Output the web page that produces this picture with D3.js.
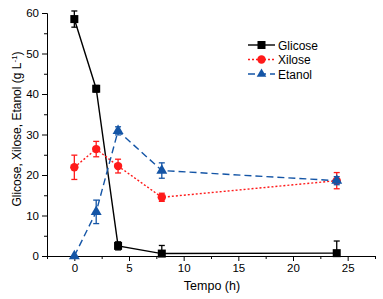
<!DOCTYPE html>
<html>
<head>
<meta charset="utf-8">
<script src="https://cdn.jsdelivr.net/npm/d3@7"></script>
<style>
body { margin: 0; background: #fff; }
svg { font-family: Arial, "Liberation Sans", sans-serif; }
.axis path, .axis line { stroke: #000; stroke-width: 1; }
.axis text { font-size: 11.5px; fill: #000; }
</style>
</head>
<body>
<script>
const WIDTH = 383;
const HEIGHT = 299;
const MARGIN = {left: 47, right: 8, top: 13, bottom: 43};

var tempo = [0, 2, 4, 8, 24];
var glicose = [58.5, 41.3, 2.5, 0.6, 0.7];
var glicoseErr = [2, 0.8, 1, 2, 3];
var xilose = [21.9, 26.4, 22.2, 14.5, 18.6];
var xiloseErr = [3, 1.9, 1.7, 1, 2];
var etanol = [0, 10.9, 30.9, 21.1, 18.6];
var etanolErr = [0, 2.9, 1, 1.9, 1];
var xTicks = [0, 5, 10, 15, 20, 25];
var yTicks = [0, 10, 20, 30, 40, 50, 60];

var series = [
	{name: 'Glicose', values: glicose, err: glicoseErr, color: '#000000', dash: null, marker: 'square'},
	{name: 'Xilose', values: xilose, err: xiloseErr, color: '#ff1a1a', dash: '2,2', marker: 'circle'},
	{name: 'Etanol', values: etanol, err: etanolErr, color: '#1455a6', dash: '7,4', marker: 'triangle'}
];

var drawChart = function(){
	var svg = d3.select('body').append('svg')
		.attr('width', WIDTH)
		.attr('height', HEIGHT);

	var xScale = d3.scaleLinear().domain([-2.5, 27.5]).range([MARGIN.left, WIDTH - MARGIN.right]);
	var yScale = d3.scaleLinear().domain([0, 60]).range([HEIGHT - MARGIN.bottom, MARGIN.top]);

	// minor ticks
	var xMinor = d3.range(-2.5, 27.6, 2.5).filter(function(d){ return xTicks.indexOf(d) < 0; });
	var yMinor = d3.range(5, 60, 10);

	svg.append('g').attr('class', 'axis')
		.attr('transform', 'translate(0,' + (HEIGHT - MARGIN.bottom) + ')')
		.call(d3.axisBottom(xScale).tickValues(xMinor).tickSize(3).tickFormat('').tickSizeOuter(0));
	svg.append('g').attr('class', 'axis')
		.attr('transform', 'translate(0,' + (HEIGHT - MARGIN.bottom) + ')')
		.call(d3.axisBottom(xScale).tickValues(xTicks).tickSize(5).tickPadding(3).tickSizeOuter(0));

	svg.append('g').attr('class', 'axis')
		.attr('transform', 'translate(' + MARGIN.left + ',0)')
		.call(d3.axisLeft(yScale).tickValues(yMinor).tickSize(3).tickFormat('').tickSizeOuter(0));
	svg.append('g').attr('class', 'axis')
		.attr('transform', 'translate(' + MARGIN.left + ',0)')
		.call(d3.axisLeft(yScale).tickValues(yTicks).tickSize(5).tickPadding(3).tickSizeOuter(0));

	// axis titles
	svg.append('text')
		.attr('x', 212)
		.attr('y', 290)
		.attr('text-anchor', 'middle')
		.style('font-size', '12.5px')
		.text('Tempo (h)');

	var yLabel = svg.append('text')
		.attr('transform', 'translate(21,129) rotate(-90)')
		.attr('text-anchor', 'middle')
		.style('font-size', '12px');
	yLabel.append('tspan').text('Glicose, Xilose, Etanol (g L');
	yLabel.append('tspan').attr('dy', -4).style('font-size', '8px').text('-1');
	yLabel.append('tspan').attr('dy', 4).text(')');

	var plot = svg.append('g');

	var drawMarker = function(sel, s, size){
		if (s.marker === 'square') {
			sel.append('rect').attr('x', -4).attr('y', -4).attr('width', 8).attr('height', 8).attr('fill', s.color);
		} else if (s.marker === 'circle') {
			sel.append('circle').attr('r', 4.2).attr('fill', s.color);
		} else {
			sel.append('path').attr('d', d3.symbol(d3.symbolTriangle, size || 52)()).attr('fill', s.color);
		}
	};

	series.forEach(function(s){
		var pts = tempo.map(function(t, i){ return {x: t, y: s.values[i], e: s.err[i]}; });
		var g = plot.append('g');

		var line = d3.line()
			.x(function(d){ return xScale(d.x); })
			.y(function(d){ return yScale(d.y); });

		g.append('path')
			.attr('d', line(pts))
			.attr('fill', 'none')
			.attr('stroke', s.color)
			.attr('stroke-width', 1.4)
			.attr('stroke-dasharray', s.dash);

		// error bars
		var eb = g.selectAll('g.err').data(pts.filter(function(d){ return d.e > 0; }))
			.enter().append('g').attr('class', 'err');
		eb.append('line')
			.attr('x1', function(d){ return xScale(d.x); })
			.attr('x2', function(d){ return xScale(d.x); })
			.attr('y1', function(d){ return yScale(d.y + d.e); })
			.attr('y2', function(d){ return Math.min(yScale(d.y - d.e), yScale(0)); })
			.attr('stroke', s.color).attr('stroke-width', 1.3);
		eb.append('line')
			.attr('x1', function(d){ return xScale(d.x) - 3; })
			.attr('x2', function(d){ return xScale(d.x) + 3; })
			.attr('y1', function(d){ return yScale(d.y + d.e); })
			.attr('y2', function(d){ return yScale(d.y + d.e); })
			.attr('stroke', s.color).attr('stroke-width', 1.3);
		eb.filter(function(d){ return d.y - d.e > 0; }).append('line')
			.attr('x1', function(d){ return xScale(d.x) - 3; })
			.attr('x2', function(d){ return xScale(d.x) + 3; })
			.attr('y1', function(d){ return yScale(d.y - d.e); })
			.attr('y2', function(d){ return yScale(d.y - d.e); })
			.attr('stroke', s.color).attr('stroke-width', 1.3);

		g.selectAll('g.pt').data(pts).enter().append('g')
			.attr('class', 'pt')
			.attr('transform', function(d){ return 'translate(' + xScale(d.x) + ',' + yScale(d.y) + ')'; })
			.each(function(){ drawMarker(d3.select(this), s); });
	});

	// legend
	var legend = svg.append('g').attr('transform', 'translate(248,45)');
	series.forEach(function(s, i){
		var row = legend.append('g').attr('transform', 'translate(0,' + (i * 14.5) + ')');
		row.append('line')
			.attr('x1', 0).attr('x2', 27).attr('y1', 0).attr('y2', 0)
			.attr('stroke', s.color).attr('stroke-width', 1.4)
			.attr('stroke-dasharray', s.dash);
		var m = row.append('g').attr('transform', 'translate(13.5,0)');
		drawMarker(m, s, 40);
		row.append('text')
			.attr('x', 30).attr('y', 4.5)
			.style('font-size', '12px')
			.text(s.name);
	});
};

drawChart();
</script>
</body>
</html>
